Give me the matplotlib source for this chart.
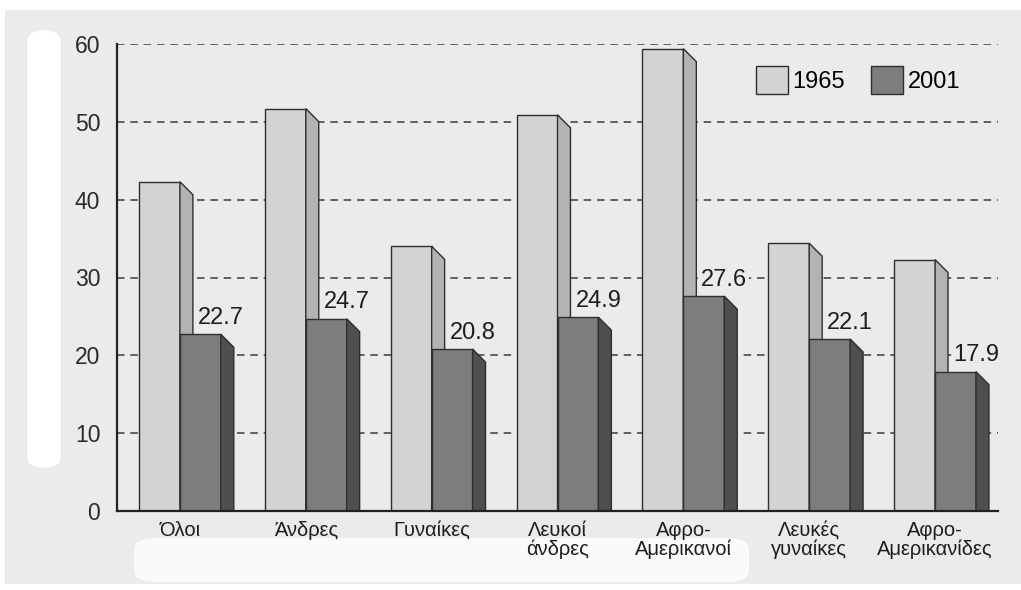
import numpy as np
import matplotlib
matplotlib.use("Agg")
import matplotlib.pyplot as plt
from matplotlib.patches import Polygon, Rectangle, Patch, FancyBboxPatch

plt.rcParams['font.family'] = ['Liberation Sans', 'DejaVu Sans']

categories = ['Όλοι', 'Άνδρες', 'Γυναίκες', 'Λευκοί\nάνδρες', 'Αφρο-\nΑμερικανοί',
              'Λευκές\nγυναίκες', 'Αφρο-\nΑμερικανίδες']
years = ['1965', '2001']
vals_1965 = [42.3, 51.7, 34.0, 50.9, 59.4, 34.4, 32.3]
vals_2001 = [22.7, 24.7, 20.8, 24.9, 27.6, 22.1, 17.9]
yticks = [0, 10, 20, 30, 40, 50, 60]

W, H = 1021, 590
bg = '#ebebeb'
fig = plt.figure(figsize=(W / 100, H / 100), dpi=100, facecolor='white')

# scanned page background with the lighter blotches
fig.patches.append(Rectangle((5 / W, 6 / H), 1 - 5 / W, 1 - 16 / H,
                             transform=fig.transFigure, facecolor=bg,
                             edgecolor='none', zorder=-10))
fig.patches.append(FancyBboxPatch((27 / W, 1 - 468 / H), 34 / W, 438 / H,
                                  boxstyle='round,pad=0,rounding_size=0.02',
                                  transform=fig.transFigure, facecolor='white',
                                  edgecolor='none', zorder=-9))
fig.patches.append(FancyBboxPatch((134 / W, 1 - 582 / H), 615 / W, 44 / H,
                                  boxstyle='round,pad=0,rounding_size=0.02',
                                  transform=fig.transFigure, facecolor='#fafafa',
                                  edgecolor='none', zorder=-9))

ax = fig.add_axes([117 / W, 1 - 511 / H, (998 - 117) / W, (511 - 44) / H])
ax.set_facecolor('none')
ax.set_xlim(-0.5, len(categories) - 0.5)
ax.set_ylim(0, 60)

width = 0.325
dx, dy = 0.103, 1.67
colors = {'1965': ('#d3d3d3', '#b3b3b3'), '2001': ('#7d7d7d', '#4f4f4f')}
edge = '#2e2e2e'

x = np.arange(len(categories))
for i, xc in enumerate(x):
    for j, (yr, v) in enumerate(zip(years, (vals_1965[i], vals_2001[i]))):
        front, side = colors[yr]
        x0 = xc - width + j * width
        x1 = x0 + width
        z = 3 + 2 * j
        ax.add_patch(Rectangle((x0, 0), width, v, facecolor=front,
                               edgecolor=edge, lw=1.0, zorder=z))
        ax.add_patch(Polygon([(x1, 0), (x1, v), (x1 + dx, v - dy), (x1 + dx, 0)],
                             closed=True, facecolor=side, edgecolor=edge,
                             lw=1.0, zorder=z + 0.5))
    ax.annotate(f'{vals_2001[i]:.1f}', (xc + width, vals_2001[i]),
                xytext=(0, 7.5), textcoords='offset points', ha='center',
                va='baseline', fontsize=17, color='#1e1e1e', zorder=10,
                bbox=dict(boxstyle='square,pad=0.05', facecolor=bg,
                          edgecolor='none'))

for yv in yticks[1:]:
    ax.axhline(yv, color='#4a4a4a', lw=1.2, dashes=(4.5, 3.5), zorder=1)

for s in ('top', 'right'):
    ax.spines[s].set_visible(False)
for s in ('left', 'bottom'):
    ax.spines[s].set_color('#222222')
    ax.spines[s].set_linewidth(1.6)
    ax.spines[s].set_zorder(12)

ax.set_yticks(yticks)
ax.set_yticklabels([str(t) for t in yticks])
ax.tick_params(axis='y', length=0, pad=12, labelsize=16.5, labelcolor='#2a2a2a')
ax.set_xticks(x)
ax.set_xticklabels(categories, fontsize=14.5, color='#1e1e1e', linespacing=1.0)
ax.tick_params(axis='x', length=0, pad=7)

handles = [Patch(facecolor=colors[y][0], edgecolor=edge, lw=1.0) for y in years]
ax.legend(handles, years, loc='upper left', bbox_to_anchor=(756 / W, 1 - 66 / H),
          bbox_transform=fig.transFigure, ncol=2, frameon=False, fontsize=17,
          handlelength=1.35, handleheight=1.45, handletextpad=0.2,
          columnspacing=1.1, borderpad=0, borderaxespad=0)

fig.savefig('out.png', dpi=100, facecolor=fig.get_facecolor())
